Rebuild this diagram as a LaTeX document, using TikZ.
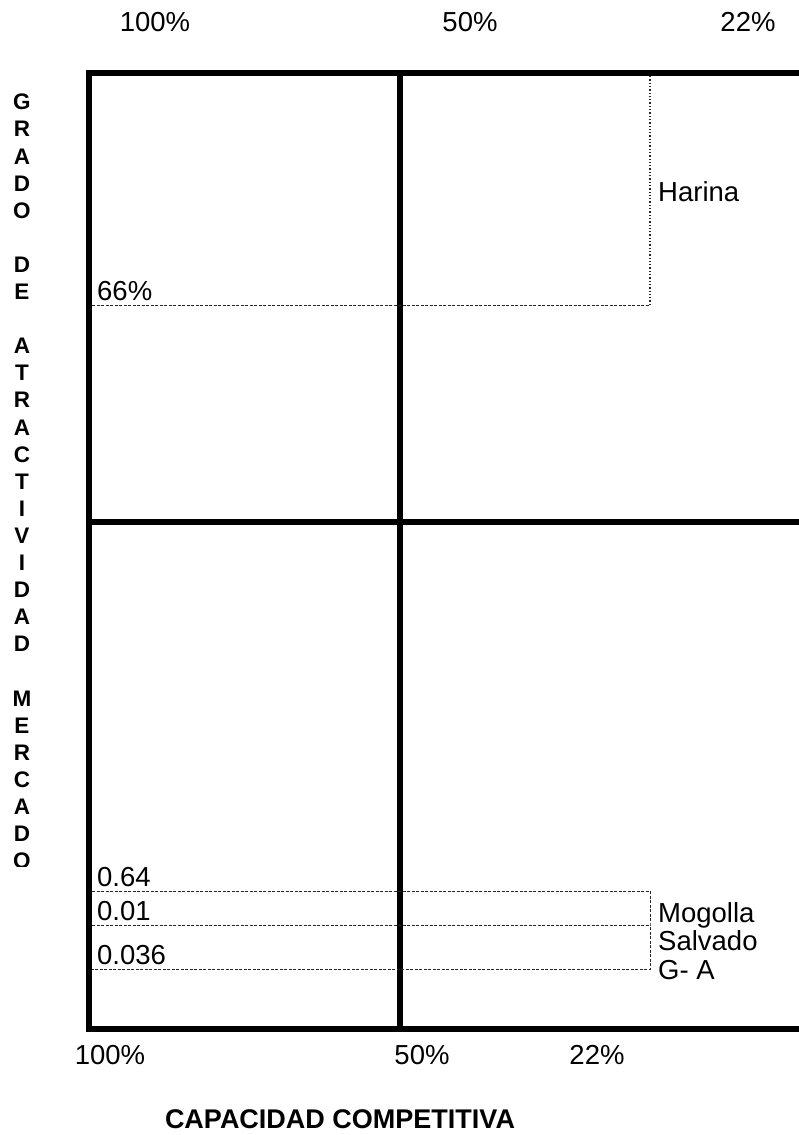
\documentclass[tikz,border=0pt]{standalone}
\usepackage{fontspec}
\setmainfont{Liberation Sans}
\usetikzlibrary{positioning}

\begin{document}
\begin{tikzpicture}[x=1pt, y=-1pt,
  frame/.style={line width=5.5pt, line cap=rect},
  guide/.style={dash pattern=on 3pt off 1.5pt, line width=1pt, black!85},
  dotguide/.style={dotted, line width=1.3pt, black!85},
  lbl/.style={font=\fontsize{27.5}{32}\selectfont, inner sep=0pt},
  prodlbl/.style={font=\fontsize{27.5}{28.5}\selectfont, inner sep=0pt, align=left},
  sidelbl/.style={font=\bfseries\fontsize{22.5}{27.1}\selectfont, inner sep=0pt, align=center},
  ttl/.style={font=\bfseries\fontsize{27}{32}\selectfont, inner sep=0pt}]
\useasboundingbox (0,0) rectangle (798,1135);
\coordinate (a1) at (89,73); \coordinate (a2) at (400,73); \coordinate (a3) at (798,73);
\coordinate (b1) at (89,522); \coordinate (b3) at (798,522);
\coordinate (c1) at (89,1029); \coordinate (c2) at (400,1029); \coordinate (c3) at (798,1029);
\draw[frame] (a1) -- (a3);
\draw[frame] (b1) -- (b3);
\draw[frame] (c1) -- (c3);
\draw[frame] (a1) -- (c1);
\draw[frame] (a2) -- (c2);
\coordinate (h0) at (92,305); \coordinate (h1) at (650,305); \coordinate (h2) at (650,76);
\draw[guide] (h0) -- (h1);
\draw[dotguide] (h1) -- (h2);
\coordinate (m0) at (92,891); \coordinate (m1) at (650,891);
\coordinate (s0) at (92,925); \coordinate (s1) at (650,925);
\coordinate (g0) at (92,969); \coordinate (g1) at (650,969);
\draw[guide] (m0) -- (m1) -- (s1) -- (g1) -- (g0);
\draw[guide] (s0) -- (s1);
\node[lbl] (top100) at (155,22) {100\%};
\node[lbl] (top50) at (470,22) {50\%};
\node[lbl] (top22) at (748,22) {22\%};
\node[lbl, anchor=base west] (v66) at (97,300) {66\%};
\node[lbl, anchor=west] (harina) at (658,192) {Harina};
\node[lbl, anchor=base west] (v064) at (97,886) {0.64};
\node[lbl, anchor=base west] (v001) at (97,920) {0.01};
\node[lbl, anchor=base west] (v0036) at (97,964) {0.036};
\node[prodlbl, anchor=west] (prods) at (658,941) {Mogolla\\Salvado\\G- A};
\node[lbl] (bot100) at (110,1055) {100\%};
\node[lbl] (bot50) at (422,1055) {50\%};
\node[lbl] (bot22) at (597,1055) {22\%};
\node[ttl] (capac) at (340,1119) {CAPACIDAD COMPETITIVA};
\begin{scope}
\clip (0,60) rectangle (60,866);
\node[sidelbl] (grado) at (22,481.5) {G\\R\\A\\D\\O\\~\\D\\E\\~\\A\\T\\R\\A\\C\\T\\I\\V\\I\\D\\A\\D\\~\\M\\E\\R\\C\\A\\D\\O};
\end{scope}
\end{tikzpicture}
\end{document}
